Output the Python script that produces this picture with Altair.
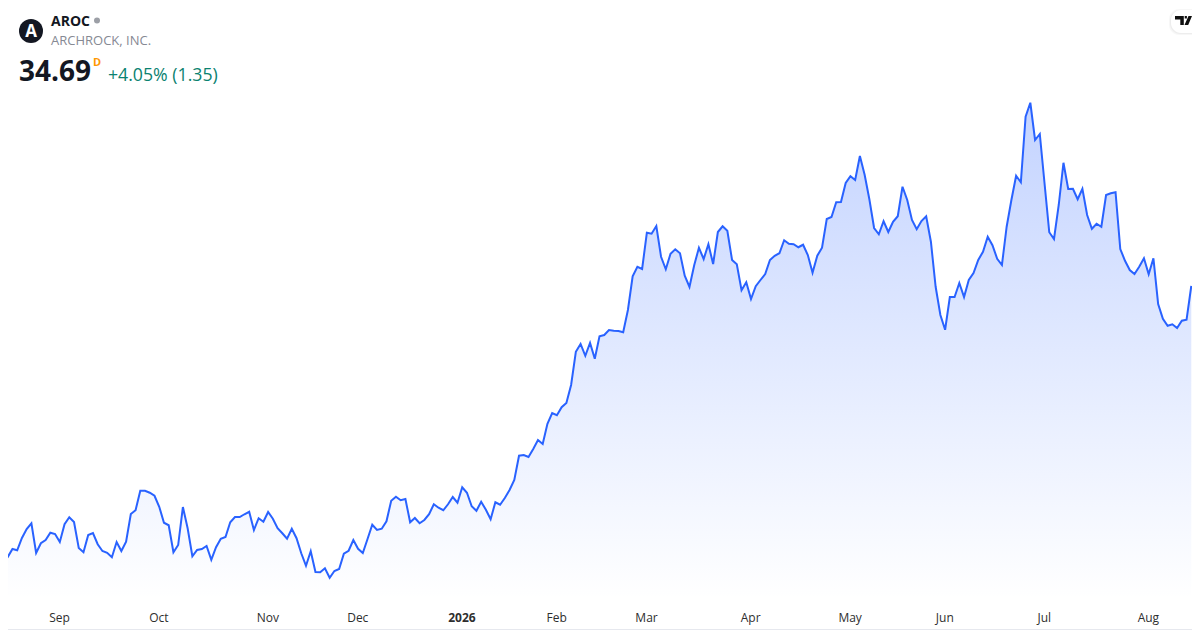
import altair as alt
import pandas as pd

closes_a = [23.90,23.85,24.17,24.12,24.61,24.97,25.20,24.01,24.40,24.53,24.82,24.77,24.45,25.16,25.44,25.25,24.21,24.04,24.73,24.81,24.36,24.09,24.02,23.84,24.45,24.09,24.46,25.57,25.72,26.50,26.50,26.42,26.30,25.86,25.22,25.12,24.04,24.33,25.85,25.00,23.88,24.13,24.17,24.29,23.74,24.24,24.58,24.65,25.24,25.45,25.45,25.56,25.66,24.93,25.40]
closes_b = [25.26,25.65,25.38,25.00,24.80,24.58,24.98,24.60,24.00,23.50,24.08,23.25,23.24,23.40,23.02,23.29,23.37,23.98,24.10,24.53,24.18,24.01,24.57,25.14,24.93,24.98,25.28,26.10,26.26,26.12,26.17,25.24,25.41,25.20,25.33,25.56,25.96,25.82,25.72,25.96,26.25,26.02,26.64,26.42,25.88,25.70,26.06,25.74,25.36,26.04,25.94,26.21,26.53]
closes_c = [26.93,27.90,27.93,27.85,28.17,28.53,28.37,29.18,29.61,29.52,29.84,30.01,30.73,32.06,32.37,31.90,32.41,31.78,32.68,32.73,32.93,32.90,32.89,32.84,33.73,35.08,35.46,35.37,36.82,36.78,37.09,35.86,35.36,35.98,36.16,36.00,35.10,34.65,35.52,36.22,35.77,36.36,35.57,36.85,37.08]
closes_d = [36.90,35.73,35.56,34.52,34.84,34.17,34.68,34.93,35.17,35.73,35.90,36.00,36.52,36.38,36.36,36.24,36.34,35.93,35.22,35.90,36.22,37.37,37.45,38.04,38.05,38.81,39.08,38.93,39.89,39.14,38.16,37.01,36.76,37.28,36.85,37.26,37.48,38.66,38.13,37.33,36.96,37.29,37.48,36.46,34.66,33.53,32.94]
closes_e = [34.25,34.25,34.81,34.25,34.93,35.21,35.73,36.06,36.66,36.32,35.78,35.53,37.06,38.13,39.10,38.84,41.46,42.02,40.53,40.77,38.80,36.84,36.57,37.93,39.62,38.57,38.58,38.16,38.58,37.53,36.98,37.18,37.06,38.33,38.40,38.44,36.17,35.70,35.33,35.17,35.46,35.80,35.16,35.80,33.97,33.38,33.10,33.16,33.01,33.30,33.34,34.69]
tick_days = [12,33,56,75,97,117,136,158,179,199,220,242]
tick_labels = ["Sep","Oct","Nov","Dec","2026","Feb","Mar","Apr","May","Jun","Jul","Aug"]

closes = closes_a + closes_b + closes_c + closes_d + closes_e
df = pd.DataFrame({"day": range(len(closes)), "close": closes})

W, H, FONT = 1184, 592, "Open Sans"
OX, OY = 8, 8  # page margin: reference pixel minus this gives the chart position
FLOOR = 22.13

label_js = "{" + ",".join(f"{d}:'{l}'" for d, l in zip(tick_days, tick_labels)) + "}"
x = alt.X("day:Q", scale=alt.Scale(domain=[1.056, 251.15], nice=False, zero=False),
          axis=alt.Axis(values=tick_days, labelExpr=f"{label_js}[datum.value]", title=None,
                        domain=False, ticks=False, grid=False, labelOverlap=False, labelFlush=False,
                        labelPadding=12, labelOffset=-0.8, labelFont=FONT, labelFontSize=12, labelColor="#2e2e2e",
                        labelFontWeight=alt.expr("datum.value == 97 ? 'bold' : 'normal'")))
y = alt.Y("close:Q", scale=alt.Scale(domain=[FLOOR, 45.81], nice=False, zero=False), axis=None)

grad = alt.Gradient(gradient="linear", x1=1, y1=1, x2=1, y2=0, stops=[
    alt.GradientStop(offset=0, color="rgba(41,98,255,0.0)"),
    alt.GradientStop(offset=1, color="rgba(41,98,255,0.28)")])
area = alt.Chart(df).mark_area(color=grad, interpolate="linear").encode(x=x, y=y, y2=alt.Y2(datum=FLOOR))
line = alt.Chart(df).mark_line(color="#2962FF", strokeWidth=2, interpolate="linear").encode(x=x, y=y)

one = alt.Data(values=[{"k": 0}])
def text(s, px, py, size, color, weight="normal", align="left"):
    return alt.Chart(one).mark_text(text=s, font=FONT, fontSize=size, color=color, fontWeight=weight,
                                    align=align, baseline="alphabetic").encode(
        x=alt.value(px - OX), y=alt.value(py - OY))
def dot(px, py, size, color):
    return alt.Chart(one).mark_point(filled=True, shape="circle", size=size, color=color, opacity=1).encode(
        x=alt.value(px - OX), y=alt.value(py - OY))

def badge(x0, y0, x1, y1, color, op):
    return alt.Chart(one).mark_rect(color=color, opacity=op, cornerRadius=10).encode(
        x=alt.value(x0 - OX), x2=alt.value(x1 - OX), y=alt.value(y0 - OY), y2=alt.value(y1 - OY))

TV_LOGO = ("M-0.85,-0.45 L0.03,-0.45 L0.03,0.45 L-0.32,0.45 L-0.32,-0.1 L-0.85,-0.1 Z "
           "M0.1,0.45 L0.5,-0.45 L0.85,-0.45 L0.47,0.45 Z "
           "M0.12,-0.45 L0.34,-0.45 L0.34,-0.2 L0.12,-0.2 Z")
logo = alt.Chart(one).mark_point(filled=True, shape=TV_LOGO, size=400, color="#0f0f0f", opacity=1).encode(
    x=alt.value(1183.5 - OX), y=alt.value(20.5 - OY))

edge = alt.Chart(one).mark_rule(color="#e6e8ee", strokeWidth=1).encode(
    x=alt.value(0), x2=alt.value(W), y=alt.value(621.5))

decor = [
    edge,
    badge(1169, 9, 1230, 35, "#000000", 0.03),
    badge(1170, 10, 1230, 34, "#000000", 0.04),
    badge(1171, 10, 1230, 33, "#ffffff", 1),
    logo,
    dot(31, 31, 576, "#131722"),
    text("A", 31, 37, 17, "#ffffff", "bold", "center"),
    text("AROC", 51, 26, 14, "#131722", "bold"),
    dot(97, 20.5, 36, "#9c9fa6"),
    text("ARCHROCK, INC.", 51, 45, 13, "#868993"),
    text("34.69", 19, 81, 28, "#131722", "bold"),
    text("D", 93, 66, 11, "#FF9800", "bold"),
    text("+4.05% (1.35)", 108, 81, 17.7, "#0a8270"),
]

chart = alt.layer(area, line, *decor).properties(
    width=W, height=H, background="#ffffff",
    autosize=alt.AutoSizeParams(type="none"),
    padding={"left": 0, "top": 0, "right": 0, "bottom": 30},
).configure_view(stroke=None)

chart.save("out.html", embed_options={"renderer": "svg", "actions": False})
